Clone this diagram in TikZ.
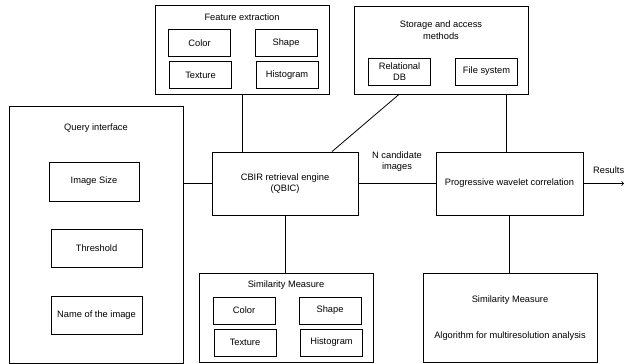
\documentclass[tikz,border=0pt]{standalone}
\usepackage{fontspec}
\setmainfont{Liberation Sans}
\usepackage{tikz}
\usetikzlibrary{calc}

\tikzset{
	blk/.style={draw,line width=0.8pt,inner sep=0pt,align=center},
	sub/.style={blk,minimum width=62pt,minimum height=27pt},
	lbl/.style={inner sep=0pt,align=center},
	wire/.style={line width=0.8pt}
}

\begin{document}
\begin{tikzpicture}[x=1pt,y=-1pt,font=\fontsize{9.3}{11.5}\selectfont]
		\useasboundingbox (0,0) rectangle (624,364);
		% feature extraction
		\node[blk,minimum width=174pt,minimum height=89pt](fe)at(242,49.5){};
		\node[lbl](fet)at(242,17){Feature extraction};
		\node[sub](fec)at(199.5,43){Color};
		\node[sub](fes)at(286,43){Shape};
		\node[sub](fet2)at(200.5,75){Texture};
		\node[sub](feh)at(287,75){Histogram};
		% storage
		\node[blk,minimum width=174pt,minimum height=88pt](st)at(441,50){};
		\node[lbl](stt)at(441,30){Storage and access\\methods};
		\node[sub](rdb)at(399.5,71.5){Relational\\DB};
		\node[sub](fs)at(486.5,71.5){File system};
		% query interface
		\node[blk,minimum width=174pt,minimum height=257pt](qi)at(96,234.5){};
		\node[lbl](qit)at(96,128){Query interface};
		\node[blk,minimum width=90pt,minimum height=39pt](isz)at(94,181.5){Image Size};
		\node[blk,minimum width=91pt,minimum height=38pt](thr)at(96.5,248){Threshold};
		\node[blk,minimum width=91pt,minimum height=38pt](nam)at(96.5,315){Name of the image};
		% engine and correlation
		\node[blk,minimum width=146pt,minimum height=63pt](cbir)at(285,183.5){CBIR retrieval engine\\(QBIC)};
		\node[blk,minimum width=147pt,minimum height=63pt](pwc)at(509.5,183.5){Progressive wavelet correlation};
		% similarity measures
		\node[blk,minimum width=174pt,minimum height=89pt](siml)at(286,317.5){};
		\node[lbl](simlt)at(286,285){Similarity Measure};
		\node[sub](smc)at(244,310.5){Color};
		\node[sub](sms)at(330,310.5){Shape};
		\node[sub](smt)at(245,342.5){Texture};
		\node[sub](smh)at(331.5,342.5){Histogram};
		\node[blk,minimum width=174pt,minimum height=89pt](simr)at(510,317.5){};
		\node[lbl](simrt)at(510,300){Similarity Measure};
		\node[lbl](simra)at(510,336){Algorithm for multiresolution analysis};
		% connectors
		\coordinate(res)at(624,183.5);
		\draw[wire](fe.south)--(fe.south|-cbir.north);
		\draw[wire]([xshift=-42pt]st.south)--([xshift=47pt]cbir.north);
		\draw[wire]([xshift=-3.5pt]pwc.north|-st.south)--([xshift=-3.5pt]pwc.north);
		\draw[wire](qi.east|-cbir.west)--(cbir.west);
		\draw[wire](cbir.east)--(pwc.west);
		\node[lbl](nci)at(397,161.5){N candidate\\images};
		\draw[wire](cbir.south)--(cbir.south|-siml.north);
		\draw[wire](pwc.south)--(pwc.south|-simr.north);
		\draw[wire,->](pwc.east)--(res);
		\node[lbl,anchor=west](rlt)at(593,170){Results};
	\end{tikzpicture}
\end{document}
